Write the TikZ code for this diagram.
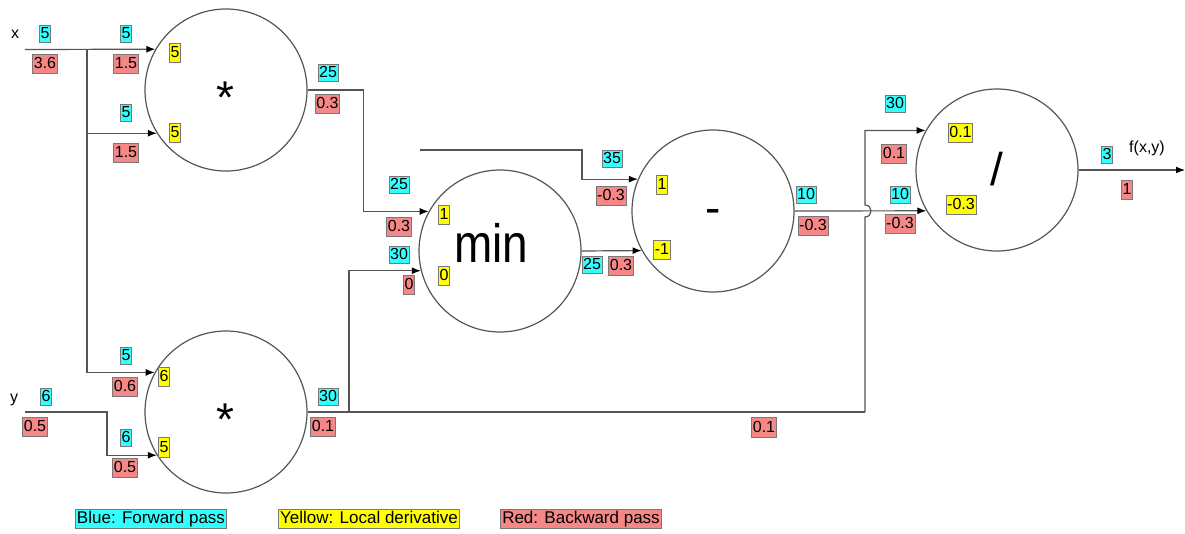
\documentclass[tikz,border=0pt]{standalone}
\usepackage{fontspec}
\usepackage{graphicx}
\setmainfont{Liberation Sans}
\usetikzlibrary{arrows.meta}
\definecolor{fwc}{RGB}{51,255,255}
\definecolor{bwc}{RGB}{245,135,135}
\definecolor{ldc}{RGB}{255,255,0}
\definecolor{wirec}{RGB}{85,85,85}
\definecolor{boxc}{RGB}{120,120,120}
\newcommand\labfont{\fontsize{16}{18}\selectfont}
\newcommand\opfont{\fontsize{46}{46}\selectfont}
\begin{document}
\begin{tikzpicture}[x=1pt,y=-1pt,
  opnode/.style={circle,draw=wirec,line width=1.2pt,minimum size=162pt,inner sep=0pt},
  opsym/.style={anchor=base,inner sep=0pt,font=\opfont},
  lab/.style={draw=boxc,line width=0.7pt,inner xsep=1.2pt,inner ysep=2pt,text height=12.5pt,text depth=3pt,font=\labfont},
  fw/.style={lab,fill=fwc,inner ysep=1pt},
  bw/.style={lab,fill=bwc},
  ld/.style={lab,fill=ldc},
  legend/.style={lab,font=\fontsize{17}{19}\selectfont,inner xsep=1.5pt},
  plain/.style={anchor=base,inner sep=0pt,font=\labfont},
  wireline/.style={draw=wirec,line width=1.2pt},
  arr/.style={wireline,-{Latex[length=9pt,width=7pt,color=black]}}]

\useasboundingbox (0,0) rectangle (1185,533);

% operation nodes
\node[opnode] (m1) at (226,90) {};
\node[opnode] (m2) at (226,412) {};
\node[opnode] (mn) at (500,251) {};
\node[opnode] (sub) at (713,211) {};
\node[opnode] (dv) at (997,170) {};
\node[opsym] (m1s) at (225,113) {*};
\node[opsym] (m2s) at (225,435) {*};
\node[opsym] (mns) at (491,262) {\scalebox{0.85}[1]{\fontsize{54}{54}\selectfont min}};
\node[opsym] (subs) at (713,223) {-};
\node[opsym] (dvs) at (997,185) {/};

% wires
\coordinate (xin) at (25,49.5);
\coordinate (xj) at (87,49.5);
\coordinate (yin) at (25,412);
\coordinate (j2) at (349,412);
\coordinate (j3) at (865,412);
\coordinate (tin) at (420,150);
\coordinate (fout) at (1185,170);

\draw[arr] (xin) -- (m1.150);
\draw[arr] (xj) |- (m2.151);
\draw[arr] (xj |- m1.212) -- (m1.212);
\draw[arr] (yin) -- ++(82,0) |- (m2.212);
\draw[arr] (m1.east) -- ++(56,0) |- (mn.151);
\draw[wireline] (m2.east) -- (j3);
\draw[arr] (j2) |- (mn.194);
\draw[arr] (j3) -- (865,217) .. controls (873,217) and (873,205) .. (865,205) |- (dv.151);
\draw[arr] (tin) -- ++(162,0) |- (sub.157);
\draw[arr] (mn.east) -- (sub.209);
\draw[arr] (sub.east) -- (dv.210);
\draw[arr] (dv.east) -- (fout);

% labels
\node[plain] (xl) at (15,38) {x};
\node[fw] (a1) at (45,34) {5};
\node[bw] (a2) at (45,64) {3.6};
\node[fw] (a3) at (126,34) {5};
\node[bw] (a4) at (126,64) {1.5};
\node[ld] (a5) at (175,53) {5};
\node[fw] (a6) at (126,113) {5};
\node[bw] (a7) at (126,153) {1.5};
\node[ld] (a8) at (175,133) {5};
\node[fw] (a9) at (328,73) {25};
\node[bw] (a10) at (327.5,104) {0.3};
\node[fw] (b1) at (399,185) {25};
\node[bw] (b2) at (399,227) {0.3};
\node[ld] (b3) at (444,215) {1};
\node[fw] (b4) at (399,255) {30};
\node[bw] (b5) at (409,285) {0};
\node[ld] (b6) at (444,276) {0};
\node[fw] (b7) at (592,265) {25};
\node[bw] (b8) at (621,266) {0.3};
\node[fw] (c1) at (612,159) {35};
\node[bw] (c2) at (611,196) {-0.3};
\node[ld] (c3) at (662,185) {1};
\node[ld] (c4) at (662,250) {-1};
\node[fw] (c5) at (806,195) {10};
\node[bw] (c6) at (813,226) {-0.3};
\node[fw] (d1) at (895,104) {30};
\node[bw] (d2) at (894,154) {0.1};
\node[ld] (d3) at (960.5,133) {0.1};
\node[fw] (d4) at (900,195) {10};
\node[bw] (d5) at (900,224) {-0.3};
\node[ld] (d6) at (961,205) {-0.3};
\node[fw] (d7) at (1107,155) {3};
\node[plain] (fl) at (1147,152) {f(x,y)};
\node[bw] (d8) at (1127,190) {1};
\node[plain] (yl) at (14,402) {y};
\node[fw] (e1) at (46,397) {6};
\node[bw] (e2) at (35,427) {0.5};
\node[fw] (e3) at (126,356) {5};
\node[bw] (e4) at (125,387) {0.6};
\node[ld] (e5) at (164,377) {6};
\node[fw] (e6) at (126,438) {6};
\node[bw] (e7) at (125,468) {0.5};
\node[ld] (e8) at (164,447.5) {5};
\node[fw] (e9) at (328,397) {30};
\node[bw] (e10) at (323,427) {0.1};
\node[bw] (e11) at (764,427.5) {0.1};
\node[legend,fill=fwc] (l1) at (151,519) {Blue: Forward pass};
\node[legend,fill=ldc] (l2) at (369,519) {Yellow: Local derivative};
\node[legend,fill=bwc] (l3) at (581,519) {Red: Backward pass};
\end{tikzpicture}
\end{document}
